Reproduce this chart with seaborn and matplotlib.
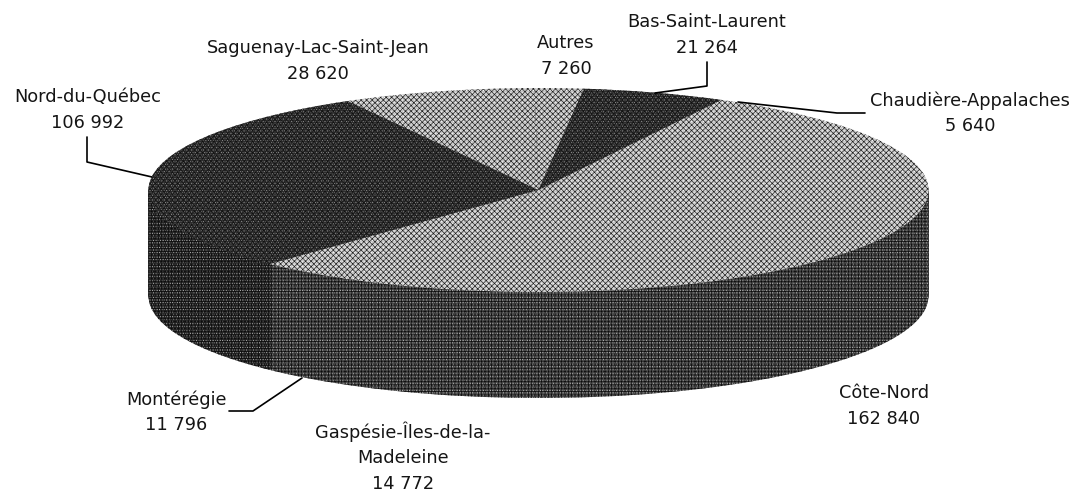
import numpy as np
import seaborn as sns
import matplotlib.pyplot as plt

regions = ['Nord-du-Québec', 'Saguenay-Lac-Saint-Jean', 'Autres', 'Bas-Saint-Laurent',
           'Chaudière-Appalaches', 'Côte-Nord', 'Gaspésie-Îles-de-la-\nMadeleine', 'Montérégie']
values = [106992, 28620, 7260, 21264, 5640, 162840, 14772, 11796]
value_labels = ['106 992', '28 620', '7 260', '21 264', '5 640', '162 840', '14 772', '11 796']

# same order as regions, grey levels of the scanned fills
top_colors = ['#2c2c2c', '#c4c4c4', '#c4c4c4', '#2c2c2c', '#c8c8c8', '#c8c8c8', '#c8c8c8', '#c8c8c8']
top_dots = ['#949494', '#ffffff', '#ffffff', '#949494', '#ffffff', '#ffffff', '#ffffff', '#ffffff']
top_grain = ['#111111', '#1a1a1a', '#1a1a1a', '#111111', '#1a1a1a', '#1a1a1a', '#1a1a1a', '#1a1a1a']
side_colors = ['#262626', '#262626', '#262626', '#262626', '#484848', '#484848', '#484848', '#484848']

# layout in pixels of the picture
W, H = 1077, 496
CX, CY = 538.5, 190
RX, RY = 390, 102
DEPTH = 106
label_pos = [(88, 110), (318, 61), (566, 56), (707, 35), (970, 113), (884, 406), (403, 457), (176, 412)]
leaders = [
    [(87, 137), (87, 162), (152, 177)],
    [(707, 62), (707, 86), (655, 93)],
    [(865, 113), (837, 113), (738, 102)],
    [(229, 411), (253, 411), (302, 378)],
]

sns.set_theme(style='white')
plt.rcParams['font.family'] = ['DejaVu Sans']
plt.rcParams['hatch.linewidth'] = 0.45

fig = plt.figure(figsize=(W / 100, H / 100), dpi=100)
ax = fig.add_axes([0, 0, 1, 1])


def draw_pie(center_y, colors, hatch_colors=None, hatch=None):
    wedges, _ = ax.pie(values, colors=colors, startangle=226.5, counterclock=False,
                       center=(0, center_y), radius=1, frame=False,
                       wedgeprops={'linewidth': 0})
    if hatch:
        for wedge, hc in zip(wedges, hatch_colors):
            wedge.set_hatch(hatch)
            wedge.set_edgecolor(hc)


# stack of plain pies for the thick side
for i in range(DEPTH, 0, -1):
    draw_pie(-i / RY, side_colors)

# grain on the side, only on the visible band
rim = np.linspace(-1, 1, 500)
rim_low = -np.sqrt(1 - rim ** 2)
ax.fill_between(rim, rim_low, rim_low - DEPTH / RY, facecolor='none', edgecolor='#b4b4b4',
                hatch='.......', linewidth=0)
ax.fill_between(rim, rim_low, rim_low - DEPTH / RY, facecolor='none', edgecolor='#0c0c0c',
                hatch='+++++', linewidth=0)

# top face and its grain
draw_pie(0, top_colors, top_dots, '.......')
draw_pie(0, ['none'] * len(values), top_grain, 'xxxxxx')

ax.set_aspect('auto')
ax.set_xlim(-CX / RX, (W - CX) / RX)
ax.set_ylim((CY - H) / RY, CY / RY)
ax.axis('off')

# labels and leader lines drawn on top in pixel coordinates
over = fig.add_axes([0, 0, 1, 1], facecolor='none')
over.set_xlim(0, W)
over.set_ylim(H, 0)
over.axis('off')
for name, val, (x, y) in zip(regions, value_labels, label_pos):
    over.text(x, y, f'{name}\n{val}', ha='center', va='center', fontsize=12.8,
              color='#151515', linespacing=1.52)
for line in leaders:
    over.plot([p[0] for p in line], [p[1] for p in line], color='black', lw=1.2)

fig.savefig('out.png', dpi=100)
plt.close()
